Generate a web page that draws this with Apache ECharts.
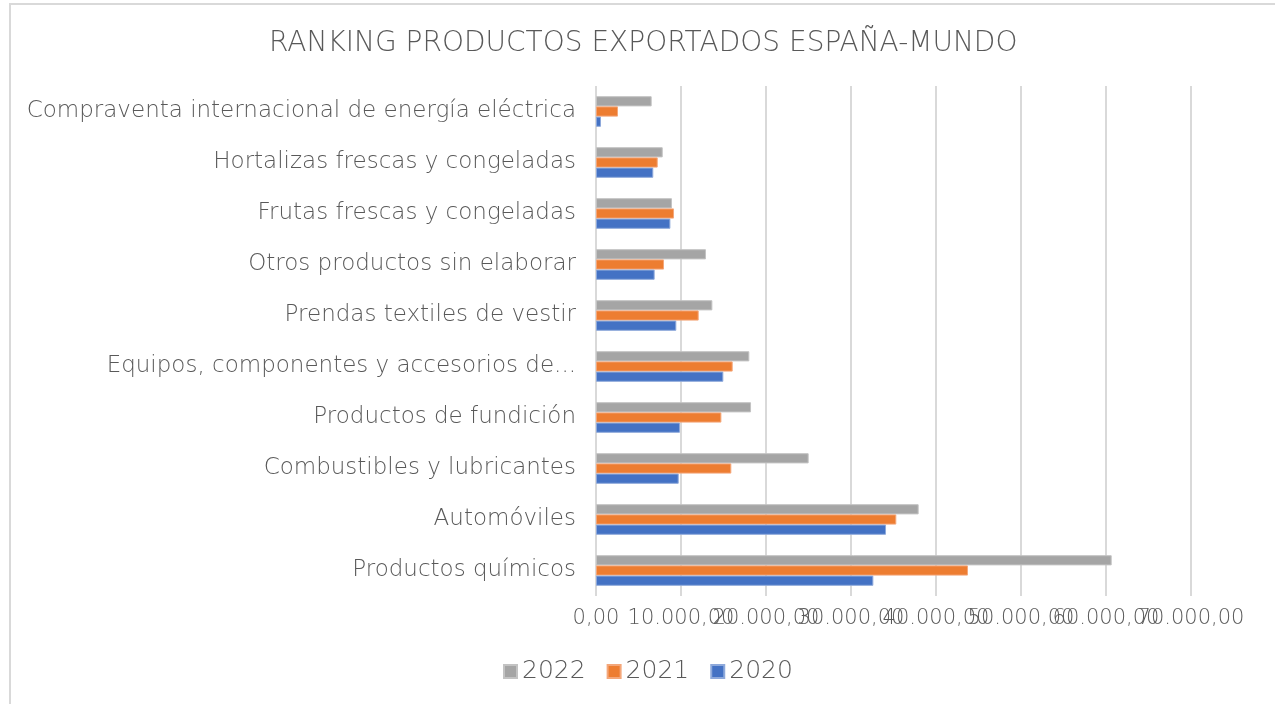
<!DOCTYPE html>
<html>
<head>
<meta charset="utf-8">
<script src="https://cdn.jsdelivr.net/npm/echarts@6/dist/echarts.min.js"></script>
<style>
  html, body { margin: 0; padding: 0; background: #fff; }
  #main { width: 1275px; height: 704px; }
</style>
</head>
<body>
<div id="main"></div>
<script>
// categories, bottom to top as drawn
const categories = [
  'Productos químicos',
  'Automóviles',
  'Combustibles y lubricantes',
  'Productos de fundición',
  'Equipos, componentes y accesorios de...',
  'Prendas textiles de vestir',
  'Otros productos sin elaborar',
  'Frutas frescas y congeladas',
  'Hortalizas frescas y congeladas',
  'Compraventa internacional de energía eléctrica',
]

const values2020 = [32630, 34120, 9730, 9880, 14980, 9450, 6900, 8750, 6740, 590]
const values2021 = [43760, 35330, 15920, 14750, 16080, 12080, 8000, 9180, 7260, 2590]
const values2022 = [60670, 37960, 25020, 18240, 18040, 13690, 12940, 8940, 7850, 6550]

const TEXT = '#595959'
const FONT = 'DejaVu Sans'
const WEIGHT = 200

function formatEs(v) {
  const int = Math.round(v).toString().replace(/\B(?=(\d{3})+(?!\d))/g, '.')
  return int + ',00'
}

// the excel labels overlap each other; echarts drops overlapped neighbours,
// so split them over two identical axes (even / odd steps)
const xLabels = (odd) => (v) => ((v / 10000) % 2 === 1) === odd ? formatEs(v) : ''

const chart = echarts.init(document.getElementById('main'))

const barStyle = (color, edge) => ({
  color,
  borderColor: edge,
  borderWidth: 1,
})

const xAxisBase = (odd) => ({
  type: 'value',
  min: 0,
  max: 70000,
  interval: 10000,
  position: 'bottom',
  axisLine: { show: false },
  axisTick: { show: false },
  splitLine: { show: !odd, lineStyle: { color: '#D9D9D9', width: 2 } },
  axisLabel: {
    color: TEXT,
    fontSize: 21,
    fontWeight: WEIGHT,
    margin: 12,
    formatter: xLabels(odd),
    showMinLabel: true,
    showMaxLabel: true,
  },
})

chart.setOption({
  animation: false,
  textStyle: { fontFamily: FONT, fontWeight: WEIGHT },
  title: {
    text: 'RANKING PRODUCTOS EXPORTADOS ESPAÑA-MUNDO',
    left: 264,
    top: 25,
    textStyle: { color: TEXT, fontSize: 28, fontWeight: WEIGHT, fontFamily: FONT },
  },
  graphic: [{
    type: 'rect',
    shape: { x: 10, y: 4, width: 1300, height: 720 },
    style: { fill: 'none', stroke: '#D9D9D9', lineWidth: 2 },
    silent: true,
  }],
  legend: {
    data: ['2022', '2021', '2020'],
    top: 654,
    left: 498,
    icon: 'rect',
    itemWidth: 13,
    itemHeight: 13,
    itemGap: 21,
    textStyle: { color: TEXT, fontSize: 25, fontFamily: FONT, fontWeight: WEIGHT },
  },
  grid: { left: 596, right: 84, top: 86, bottom: 108 },
  xAxis: [xAxisBase(false), xAxisBase(true)],
  yAxis: {
    type: 'category',
    data: categories,
    axisLine: { show: false },
    axisTick: { show: false },
    axisLabel: { color: TEXT, fontSize: 23, fontWeight: WEIGHT, margin: 20 },
  },
  series: [
    { name: '2022', type: 'bar', data: values2022, itemStyle: barStyle('#A5A5A5', '#C3C3C3'), barGap: '0%', barCategoryGap: '40%' },
    { name: '2021', type: 'bar', data: values2021, itemStyle: barStyle('#ED7D31', '#F4A77A'), barGap: '0%', barCategoryGap: '40%' },
    { name: '2020', type: 'bar', data: values2020, itemStyle: barStyle('#4472C4', '#8EA9DB'), barGap: '0%', barCategoryGap: '40%' },
  ],
})
</script>
</body>
</html>
